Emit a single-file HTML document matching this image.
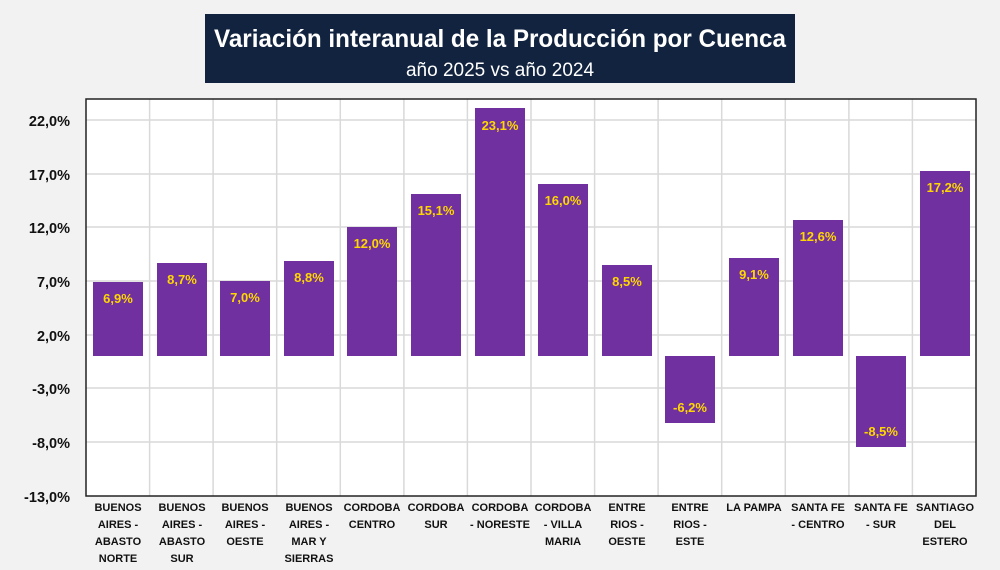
<!DOCTYPE html>
<html><head><meta charset="utf-8"><style>
body{margin:0;background:#f2f2f2;}
svg{display:block;font-family:"Liberation Sans",sans-serif;}
</style></head><body>
<svg width="1000" height="570" viewBox="0 0 1000 570">
<rect width="1000" height="570" fill="#f2f2f2"/>
<rect x="205" y="14" width="590" height="69" fill="#12233f"/>
<text x="500" y="47" text-anchor="middle" fill="#fff" font-size="25" font-weight="bold" textLength="572" lengthAdjust="spacingAndGlyphs">Variación interanual de la Producción por Cuenca</text>
<text x="500" y="76" text-anchor="middle" fill="#fff" font-size="19">año 2025 vs año 2024</text>
<rect x="86" y="99" width="890" height="397" fill="#fff"/>
<g stroke="#d9d9d9" stroke-width="1.5">
<line x1="86" x2="976" y1="120" y2="120"/><line x1="86" x2="976" y1="174" y2="174"/>
<line x1="86" x2="976" y1="227" y2="227"/><line x1="86" x2="976" y1="281" y2="281"/>
<line x1="86" x2="976" y1="335" y2="335"/><line x1="86" x2="976" y1="388" y2="388"/>
<line x1="86" x2="976" y1="442" y2="442"/>
<line y1="99" y2="496" x1="149.6" x2="149.6"/><line y1="99" y2="496" x1="213.1" x2="213.1"/>
<line y1="99" y2="496" x1="276.7" x2="276.7"/><line y1="99" y2="496" x1="340.3" x2="340.3"/>
<line y1="99" y2="496" x1="403.9" x2="403.9"/><line y1="99" y2="496" x1="467.4" x2="467.4"/>
<line y1="99" y2="496" x1="531" x2="531"/><line y1="99" y2="496" x1="594.6" x2="594.6"/>
<line y1="99" y2="496" x1="658.1" x2="658.1"/><line y1="99" y2="496" x1="721.7" x2="721.7"/>
<line y1="99" y2="496" x1="785.3" x2="785.3"/><line y1="99" y2="496" x1="848.9" x2="848.9"/>
<line y1="99" y2="496" x1="912.4" x2="912.4"/>
</g>
<rect x="86" y="99" width="890" height="397" fill="none" stroke="#222" stroke-width="1.5"/>
<g font-size="14.5" font-weight="bold" fill="#111" text-anchor="end">
<text x="70" y="126">22,0%</text><text x="70" y="180">17,0%</text><text x="70" y="233">12,0%</text>
<text x="70" y="287">7,0%</text><text x="70" y="341">2,0%</text><text x="70" y="394">-3,0%</text>
<text x="70" y="448">-8,0%</text><text x="70" y="502">-13,0%</text>
</g>
<g fill="#7030a0">
<rect x="93" y="282" width="50" height="74"/>
<rect x="157" y="263" width="50" height="93"/>
<rect x="220" y="281" width="50" height="75"/>
<rect x="284" y="261" width="50" height="95"/>
<rect x="347" y="227" width="50" height="129"/>
<rect x="411" y="194" width="50" height="162"/>
<rect x="475" y="108" width="50" height="248"/>
<rect x="538" y="184" width="50" height="172"/>
<rect x="602" y="265" width="50" height="91"/>
<rect x="665" y="356" width="50" height="67"/>
<rect x="729" y="258" width="50" height="98"/>
<rect x="793" y="220" width="50" height="136"/>
<rect x="856" y="356" width="50" height="91"/>
<rect x="920" y="171" width="50" height="185"/>
</g>
<g font-size="13" font-weight="bold" fill="#ffd700" text-anchor="middle">
<text x="118" y="303">6,9%</text><text x="182" y="284">8,7%</text><text x="245" y="302">7,0%</text>
<text x="309" y="282">8,8%</text><text x="372" y="248">12,0%</text><text x="436" y="215">15,1%</text>
<text x="500" y="130">23,1%</text><text x="563" y="205">16,0%</text><text x="627" y="286">8,5%</text>
<text x="690" y="412">-6,2%</text><text x="754" y="279">9,1%</text><text x="818" y="241">12,6%</text>
<text x="881" y="436">-8,5%</text><text x="945" y="192">17,2%</text>
</g>
<g font-size="11" font-weight="bold" fill="#111" text-anchor="middle">
<text x="118" y="511">BUENOS<tspan x="118" dy="17">AIRES -</tspan><tspan x="118" dy="17">ABASTO</tspan><tspan x="118" dy="17">NORTE</tspan></text>
<text x="182" y="511">BUENOS<tspan x="182" dy="17">AIRES -</tspan><tspan x="182" dy="17">ABASTO</tspan><tspan x="182" dy="17">SUR</tspan></text>
<text x="245" y="511">BUENOS<tspan x="245" dy="17">AIRES -</tspan><tspan x="245" dy="17">OESTE</tspan></text>
<text x="309" y="511">BUENOS<tspan x="309" dy="17">AIRES -</tspan><tspan x="309" dy="17">MAR Y</tspan><tspan x="309" dy="17">SIERRAS</tspan></text>
<text x="372" y="511">CORDOBA<tspan x="372" dy="17">CENTRO</tspan></text>
<text x="436" y="511">CORDOBA<tspan x="436" dy="17">SUR</tspan></text>
<text x="500" y="511">CORDOBA<tspan x="500" dy="17">- NORESTE</tspan></text>
<text x="563" y="511">CORDOBA<tspan x="563" dy="17">- VILLA</tspan><tspan x="563" dy="17">MARIA</tspan></text>
<text x="627" y="511">ENTRE<tspan x="627" dy="17">RIOS -</tspan><tspan x="627" dy="17">OESTE</tspan></text>
<text x="690" y="511">ENTRE<tspan x="690" dy="17">RIOS -</tspan><tspan x="690" dy="17">ESTE</tspan></text>
<text x="754" y="511">LA PAMPA</text>
<text x="818" y="511">SANTA FE<tspan x="818" dy="17">- CENTRO</tspan></text>
<text x="881" y="511">SANTA FE<tspan x="881" dy="17">- SUR</tspan></text>
<text x="945" y="511">SANTIAGO<tspan x="945" dy="17">DEL</tspan><tspan x="945" dy="17">ESTERO</tspan></text>
</g>
</svg>
</body></html>
